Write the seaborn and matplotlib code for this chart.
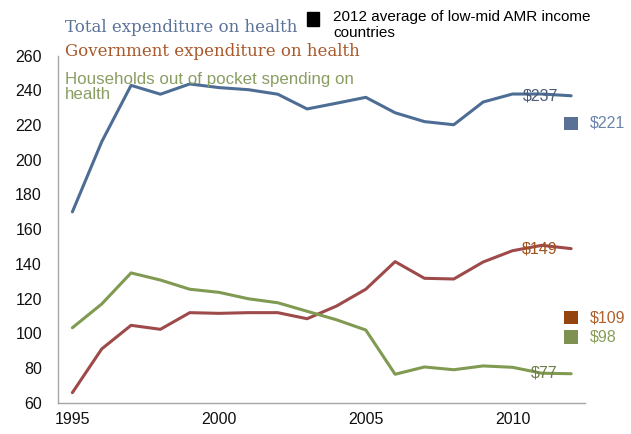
import numpy as np
import pandas as pd
import matplotlib
matplotlib.use('Agg')
import matplotlib.pyplot as plt
import seaborn as sns

sns.set_style('white')
plt.rcParams['font.family'] = ['Liberation Sans', 'DejaVu Sans']

# data
years = list(range(1995, 2013))
total = [170, 210.4, 242.9, 237.8, 243.7, 241.6, 240.4, 237.8, 229.3,
         232.6, 236.0, 227.1, 222.0, 220.2, 233.3, 237.9, 237.9, 236.9]
government = [65.8, 91.0, 104.6, 102.3, 111.9, 111.5, 111.9, 111.9, 108.4,
              115.7, 125.4, 141.3, 131.7, 131.3, 141.1, 147.6, 150.7, 148.8]
households = [103.2, 116.9, 134.8, 130.7, 125.4, 123.6, 119.9, 117.6, 112.7,
              107.8, 101.9, 76.4, 80.6, 79.0, 81.2, 80.4, 77.0, 76.7]

series_names = ['Total expenditure on health',
                'Government expenditure on health',
                'Households out of pocket spending on\nhealth']
line_colors = ['#4D6D95', '#9E4A4A', '#819A52']
head_colors = ['#5B7399', '#A9582A', '#8A9E64']
end_labels = ['$237', '$149', '$77']
end_values = [237, 148.5, 77]
label_colors = ['#4A5A78', '#A0521D', '#6E7F4A']

# 2012 average of low-mid AMR income countries
avg_values = [221, 109, 98]
avg_labels = ['$221', '$109', '$98']
avg_colors = ['#5A7096', '#94440F', '#7E9150']
avg_text_colors = ['#6B84AA', '#B0602A', '#8A9E5A']

df = pd.DataFrame({'year': years * 3,
                   'value': total + government + households,
                   'series': sum([[n] * len(years) for n in series_names], [])})

fig = plt.figure(figsize=(6.31, 4.34), dpi=100)
ax = fig.add_axes([0.0924, 0.0721, 0.8346, 0.7996])

sns.lineplot(data=df, x='year', y='value', hue='series', palette=line_colors,
             linewidth=2.2, legend=False, ax=ax)

for lab, v, c in zip(end_labels, end_values, label_colors):
    ax.text(2011.55, v, lab, ha='right', va='center', fontsize=11.5, color=c)

sns.scatterplot(x=[2012] * 3, y=avg_values, hue=avg_labels, palette=avg_colors,
                marker='s', s=95, linewidth=0, legend=False, ax=ax, clip_on=False)
for lab, v, c in zip(avg_labels, avg_values, avg_text_colors):
    ax.text(2012.64, v, lab, ha='left', va='center', fontsize=11.5, color=c)

ax.set_xlim(1994.52, 2012.47)
ax.set_ylim(60, 260)
ax.set_xticks([1995, 2000, 2005, 2010])
ax.set_yticks(np.arange(60, 261, 20))
ax.set_xlabel('')
ax.set_ylabel('')
sns.despine(ax=ax)
for s in ['left', 'bottom']:
    ax.spines[s].set_color('#A6A6A6')
    ax.spines[s].set_linewidth(1)
ax.tick_params(axis='y', direction='inout', length=8.6, width=1, color='#A6A6A6',
               pad=7.5, labelsize=11.5, labelcolor='#111111')
ax.tick_params(axis='x', direction='in', length=5, width=1, color='#A6A6A6',
               pad=6.5, labelsize=11.5, labelcolor='#111111')

# headers
fig.text(65 / 631, 1 - 27 / 434, series_names[0], family='DejaVu Serif',
         fontsize=12, color=head_colors[0], va='center')
fig.text(65 / 631, 1 - 51 / 434, series_names[1], family='DejaVu Serif',
         fontsize=12, color=head_colors[1], va='center')
fig.text(65 / 631, 1 - 87 / 434, series_names[2], fontsize=12.2,
         color=head_colors[2], va='center', linespacing=1.02)

fig.patches.append(plt.Rectangle((307 / 631, 1 - 26 / 434), 12 / 631, 14 / 434,
                                 transform=fig.transFigure, color='black'))
fig.text(333 / 631, 1 - 25 / 434, '2012 average of low-mid AMR income\ncountries',
         fontsize=11, color='black', va='center', linespacing=1.15)

fig.savefig('out.png', dpi=100)
